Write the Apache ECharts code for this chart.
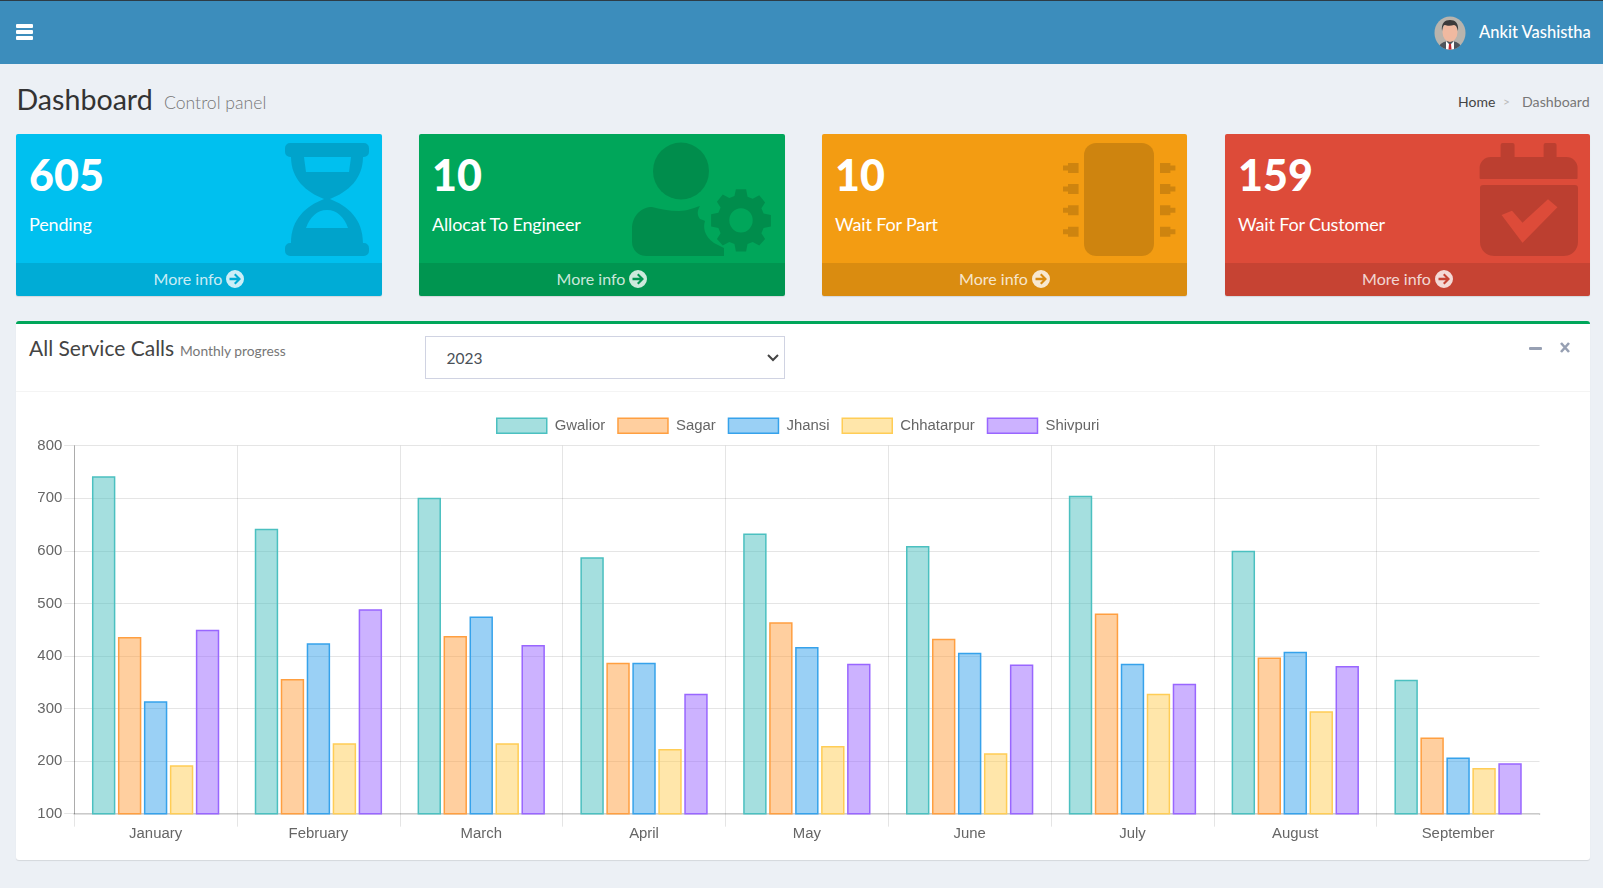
<!DOCTYPE html>
<html><head><meta charset="utf-8"><title>Dashboard</title>
<script src="https://cdn.jsdelivr.net/npm/echarts@6/dist/echarts.min.js"></script>
<style>
html,body{margin:0;padding:0;background:#ecf0f5;width:1603px;height:888px;overflow:hidden;font-family:Lato,sans-serif}
.a{position:absolute;white-space:nowrap}
#head{left:0;top:0;width:1603px;height:64px;background:#3c8dbc;border-top:1px solid #2d3b45;box-sizing:border-box}
.bar3{left:16px;width:17px;height:3.6px;background:#fff;border-radius:1px}
.card{top:134px;width:366px;height:162px;border-radius:2px;box-shadow:0 1px 1px rgba(0,0,0,.1);overflow:hidden}
.foot{left:0;top:129px;width:100%;height:33px;background:rgba(0,0,0,.1)}
.num{left:13px;top:15px;font-size:43px;font-weight:900;color:#fff;line-height:52px}
.lab{left:13px;top:78px;font-size:18px;color:#fff;line-height:24px;letter-spacing:-.15px}
.more{left:0;top:131px;width:100%;text-align:center;font-size:16px;line-height:27px;color:rgba(255,255,255,.8)}
.more svg{vertical-align:-3px;margin-left:4px}
svg.ic{position:absolute;left:0;top:0}
#box{left:16px;top:321px;width:1574px;height:539px;background:#fff;border-top:3px solid #00a65a;box-sizing:border-box;border-radius:3px;box-shadow:0 1px 1px rgba(0,0,0,.1)}
#chart{position:absolute;left:16px;top:392px;width:1574px;height:468px}
</style></head><body>
<div id="head" class="a"></div>
<div class="a bar3" style="top:24px"></div><div class="a bar3" style="top:30px"></div><div class="a bar3" style="top:36px"></div>
<svg class="a" style="left:1434px;top:16px" width="32" height="34" viewBox="0 0 32 34">
<clipPath id="cp"><ellipse cx="16" cy="17" rx="15.5" ry="16.5"/></clipPath>
<g clip-path="url(#cp)"><rect width="32" height="34" fill="#b9b4ad"/><path d="M4 34c1-7 6-9 12-9s11 2 12 9z" fill="#50555c"/><path d="M12 25l4 4 4-4v9h-8z" fill="#fff"/><path d="M15 28h2l.6 6h-3.2z" fill="#c0272d"/><ellipse cx="16" cy="16" rx="7.5" ry="10" fill="#f0b9a0"/><path d="M8 15c-1-8 3-11 8-11s9 3 8 11c-1-4-2-6-4-6-3 1-7 1-9 0-2 0-2 2-3 6z" fill="#3b3a3a"/></g></svg>
<div class="a" style="left:1479px;top:20px;font-size:16.5px;line-height:24px;color:#fff;font-weight:500">Ankit Vashistha</div>
<div class="a" style="left:16.5px;top:82px;font-size:28.6px;line-height:34px;color:#333">Dashboard</div>
<div class="a" style="left:164px;top:90.500px;font-size:17.6px;line-height:24px;color:#777;font-weight:300">Control panel</div>
<div class="a" style="left:1458px;top:93px;font-size:14px;line-height:18px;color:#444">Home</div>
<div class="a" style="left:1503px;top:93px;font-size:12px;line-height:18px;color:#bbb">&gt;</div>
<div class="a" style="left:1522px;top:93px;font-size:14.2px;line-height:18px;color:#777">Dashboard</div>

<div class="a card" style="left:16px;background:#00c0ef">
<svg class="ic" width="366" height="162" fill="rgba(0,0,0,.15)"><path fill-rule="evenodd" d="M274 9h74a5 5 0 0 1 5 5v4a5 5 0 0 1-5 5h-1C347 45 332 58 314 65C332 72 347 85 347 109h1a5 5 0 0 1 5 5v3a5 5 0 0 1-5 5h-74a5 5 0 0 1-5-5v-3a5 5 0 0 1 5-5h1C275 85 290 72 308 65C290 58 275 45 275 23h-1a5 5 0 0 1-5-5v-4a5 5 0 0 1 5-5zM288 23l2 15h43l2-15zM290 94h42c-4-11-11-18-21-18s-17 7-21 18z"/></svg>
<div class="a num">605</div><div class="a lab">Pending</div><div class="a foot"></div>
<div class="a more">More info<svg width="18" height="18"><path fill="rgba(255,255,255,.8)" fill-rule="evenodd" d="M9 0a9 9 0 1 1 0 18A9 9 0 0 1 9 0zM9.5 3.5 8 5l2.8 2.7H3.5v2.6h7.300L8 13l1.500 1.500L15 9z"/></svg></div></div>

<div class="a card" style="left:419px;background:#00a65a">
<svg class="ic" width="366" height="162" fill="rgba(0,0,0,.15)"><ellipse cx="262" cy="37" rx="28" ry="28.500"/><path d="M213 108V95c0-14 10-22 20-22 8 2 17 4 27 4 8 0 14-3 21-5-3 5-3 9 0 13 2 1 4 1 5 2-2 6-1 15 9 22l10 5v8H227a14 14 0 0 1-14-14z"/><path transform="translate(322 86) scale(.73) translate(-322 -86)" fill-rule="evenodd" d="M315 44h14l2 10 7 3 9-5 8 10-5 8 3 7 10 2v16l-10 2-3 7 5 8-8 9-9-5-7 3-2 10h-14l-2-10-7-3-9 5-8-9 5-8-3-7-10-2V78l10-2 3-7-5-8 8-10 9 5 7-3zM322 70a16 16.500 0 1 0 0 33 16 16.500 0 0 0 0-33z"/></svg>
<div class="a num">10</div><div class="a lab">Allocat To Engineer</div><div class="a foot"></div>
<div class="a more">More info<svg width="18" height="18"><path fill="rgba(255,255,255,.8)" fill-rule="evenodd" d="M9 0a9 9 0 1 1 0 18A9 9 0 0 1 9 0zM9.5 3.5 8 5l2.8 2.7H3.5v2.6h7.300L8 13l1.500 1.500L15 9z"/></svg></div></div>

<div class="a card" style="left:822px;width:365px;background:#f39c12">
<svg class="ic" width="366" height="162" fill="rgba(0,0,0,.15)"><rect x="262" y="9" width="70" height="113" rx="12"/><path d="M241 31.500h5V29h10.600v10H246v-2.500h-5zM241 52.500h5V50h10.600v10H246v-2.500h-5zM241 73.800h5v-2.500h10.600v10H246v-2.500h-5zM241 95.200h5v-2.500h10.600v10H246v-2.500h-5zM353.400 31.500h-5V29H338v10h10.400v-2.500h5zM353.400 52.500h-5V50H338v10h10.400v-2.500h5zM353.400 73.800h-5v-2.500H338v10h10.400v-2.500h5zM353.400 95.200h-5v-2.500H338v10h10.400v-2.500h5z"/></svg>
<div class="a num">10</div><div class="a lab">Wait For Part</div><div class="a foot"></div>
<div class="a more">More info<svg width="18" height="18"><path fill="rgba(255,255,255,.8)" fill-rule="evenodd" d="M9 0a9 9 0 1 1 0 18A9 9 0 0 1 9 0zM9.5 3.5 8 5l2.8 2.7H3.5v2.6h7.300L8 13l1.500 1.500L15 9z"/></svg></div></div>

<div class="a card" style="left:1225px;width:365px;background:#dd4b39">
<svg class="ic" width="366" height="162" fill="rgba(0,0,0,.15)"><path d="M254.600 44V34a11 11 0 0 1 11-11h10V11a2 2 0 0 1 2-2h10a2 2 0 0 1 2 2v12h29V11a2 2 0 0 1 2-2h9a2 2 0 0 1 2 2v12h10a11 11 0 0 1 11 11v10a1 1 0 0 1-1 1h-96a1 1 0 0 1-1-1z"/><path fill-rule="evenodd" d="M257 51h93a3 3 0 0 1 3 3v54a14 14 0 0 1-14 14h-70a14 14 0 0 1-14-14V54a3 3 0 0 1 3-3zM276.600 81l10.400-4.300 10.500 12 25.500-23.400 9.400 8L297.500 108.700z"/></svg>
<div class="a num">159</div><div class="a lab">Wait For Customer</div><div class="a foot"></div>
<div class="a more">More info<svg width="18" height="18"><path fill="rgba(255,255,255,.8)" fill-rule="evenodd" d="M9 0a9 9 0 1 1 0 18A9 9 0 0 1 9 0zM9.5 3.5 8 5l2.8 2.7H3.5v2.6h7.300L8 13l1.500 1.500L15 9z"/></svg></div></div>

<div id="box" class="a"></div>
<div class="a" style="left:29px;top:334px;font-size:21px;line-height:28px;color:#444">All Service Calls</div>
<div class="a" style="left:180px;top:341px;font-size:13.8px;line-height:20px;color:#777">Monthly progress</div>
<div class="a" style="left:425px;top:336px;width:360px;height:43px;box-sizing:border-box;border:1px solid #d0d3e2;background:#fff"></div>
<div class="a" style="left:446.500px;top:347px;font-size:15.5px;line-height:22px;color:#495057">2023</div>
<svg class="a" style="left:766px;top:353px" width="14" height="10"><path d="M2 2l5 5 5-5" fill="none" stroke="#444" stroke-width="2"/></svg>
<div class="a" style="left:16px;top:391px;width:1574px;height:1px;background:#f4f4f4"></div>
<div class="a" style="left:1529px;top:346.500px;width:13px;height:3px;background:#97a0b3;border-radius:1px"></div>
<svg class="a" style="left:1559px;top:341px" width="12" height="13"><path d="M2 2l8 9M10 2l-8 9" stroke="#97a0b3" stroke-width="2.600" fill="none"/></svg>
<div id="chart"></div>
<div class="a" style="left:1537px;top:815px;width:5px;height:13px;background:#fff"></div>
<script>
const categories=['January','February','March','April','May','June','July','August','September'];
const gwalior=[742,642,701,588,633,609,705,600,355];
const sagar=[436,356,438,387,464,433,481,397,245];
const jhansi=[314,424,475,387,417,406,385,408,207];
const chhatarpur=[192,234,234,223,229,215,328,295,187];
const shivpuri=[450,489,421,328,385,384,347,381,196];
const seriesDefs=[['Gwalior',gwalior,'75,192,192'],['Sagar',sagar,'255,159,64'],['Jhansi',jhansi,'54,162,235'],['Chhatarpur',chhatarpur,'255,205,86'],['Shivpuri',shivpuri,'153,102,255']];
const fs=14.9,tc='#666',ff='"Liberation Sans",Arial,sans-serif';
const chart=echarts.init(document.getElementById('chart'),null,{renderer:'canvas'});
chart.setOption({
 animation:false,
 textStyle:{fontFamily:ff},
 legend:{left:475,top:20.5,itemWidth:50,itemHeight:15,itemGap:12,itemStyle:{borderWidth:1.5},textStyle:{fontSize:fs,color:tc,fontFamily:ff,padding:[0,0,0,3]},icon:'rect'},
 grid:{left:58.2,right:50.5,top:53.7,height:368},
 xAxis:{type:'category',data:categories,
  axisLine:{lineStyle:{color:'rgba(0,0,0,.12)',width:2}},
  axisTick:{show:true,length:13,lineStyle:{color:'rgba(0,0,0,.1)'}},
  axisLabel:{color:tc,fontSize:fs,fontFamily:ff,margin:13},
  splitLine:{show:true,showMaxLine:false,lineStyle:{color:'rgba(0,0,0,.1)'}}},
 yAxis:{type:'value',min:100,max:800,interval:100,
  axisLine:{show:true,lineStyle:{color:'rgba(0,0,0,.25)'}},
  axisTick:{show:true,length:10,lineStyle:{color:'rgba(0,0,0,.1)'}},
  axisLabel:{color:tc,fontSize:fs,fontFamily:ff,margin:12},
  splitLine:{lineStyle:{color:'rgba(0,0,0,.1)'}}},
 series:seriesDefs.map(([name,data,rgb])=>({name,type:'bar',data,barWidth:23.4,barGap:'11%',
  itemStyle:{color:`rgba(${rgb},.5)`,borderColor:`rgb(${rgb})`,borderWidth:1.5}}))
});
</script>
</body></html>
